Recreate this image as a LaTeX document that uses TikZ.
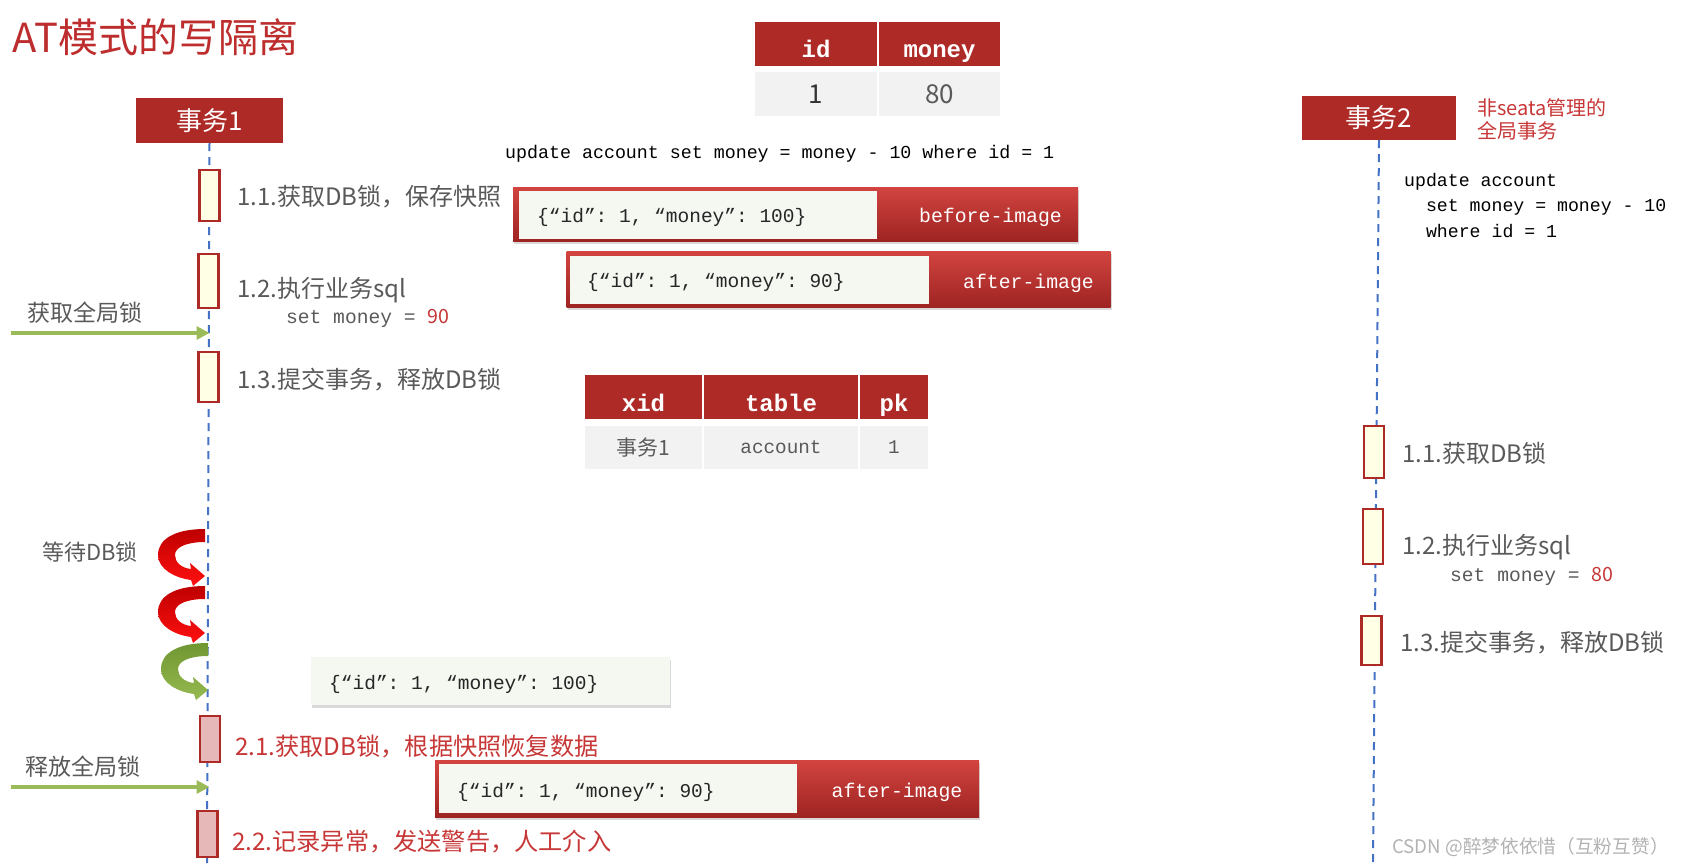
\documentclass[tikz,border=0pt]{standalone}
\usepackage{fontspec}
\setmainfont{Noto Sans CJK SC}
\setmonofont{Liberation Mono}
\usetikzlibrary{arrows.meta,shadows}

\definecolor{txred}{RGB}{174,42,39}
\definecolor{titlered}{RGB}{189,45,45}
\definecolor{labelred}{RGB}{199,55,55}
\definecolor{txtgray}{RGB}{89,89,89}
\definecolor{actyellow}{RGB}{255,255,229}
\definecolor{actpink}{RGB}{230,184,183}
\definecolor{lifeblue}{RGB}{68,114,196}
\definecolor{lockgreen}{RGB}{155,187,89}
\definecolor{datafill}{RGB}{242,242,242}
\definecolor{jsonfill}{RGB}{244,248,241}
\definecolor{imgtop}{RGB}{210,68,64}
\definecolor{imgbot}{RGB}{158,36,34}
\definecolor{waitdark}{RGB}{190,0,0}
\definecolor{waitlight}{RGB}{255,16,16}
\definecolor{greendark}{RGB}{112,150,50}
\definecolor{greenlight}{RGB}{150,186,80}
\definecolor{marklight}{RGB}{178,178,178}

\tikzset{
  txhead/.style={fill=txred, text=white, inner sep=0pt, font=\fontsize{26}{26}\selectfont},
  act/.style={draw=txred, line width=2.2pt, fill=actyellow, minimum width=20pt, inner sep=0pt},
  actdone/.style={act, fill=actpink},
  lifeline/.style={draw=lifeblue, line width=2pt, dash pattern=on 8pt off 6pt},
  steptext/.style={anchor=west, inner sep=0pt, text=txtgray, font=\fontsize{24}{24}\selectfont},
  redtext/.style={steptext, text=labelred, font=\fontsize{24.2}{24.2}\selectfont},
  settext/.style={anchor=west, inner sep=0pt, text=txtgray, font=\ttfamily\fontsize{19.6}{19.6}\selectfont},
  sqltext/.style={anchor=west, inner sep=0pt, font=\ttfamily\fontsize{18.3}{18.3}\selectfont},
  lockarrow/.style={draw=lockgreen, line width=4pt, -{Triangle[length=13pt,width=13pt]}},
  thcell/.style={fill=txred, text=white, inner sep=0pt, minimum height=44pt, text height=28pt, text depth=0pt, font=\ttfamily\bfseries\fontsize{24}{24}\selectfont},
  tdcell/.style={fill=datafill, text=txtgray, inner sep=0pt, minimum height=44pt},
  imgbox/.style={top color=imgtop, bottom color=imgbot, inner sep=0pt, drop shadow={shadow xshift=1pt, shadow yshift=-3pt, opacity=.3}},
  jsonbox/.style={fill=jsonfill, inner sep=0pt},
  jsontext/.style={anchor=west, inner sep=0pt, text=black!85, font=\ttfamily\fontsize{19.5}{19.5}\selectfont},
  imgtag/.style={inner sep=0pt, text=white, font=\ttfamily\fontsize{19.8}{19.8}\selectfont},
  redwait/.style={top color=waitdark, bottom color=waitlight},
  greenwait/.style={top color=greendark, bottom color=greenlight},
  pics/waitarrow/.style={code={
    \shade[#1] (0,0) .. controls (-30,0) and (-47,10) .. (-47,26)
      .. controls (-47,40) and (-30,49) .. (-14,51) -- (-12,57) -- (0,47) -- (-15,34) -- (-14,40)
      .. controls (-24,39) and (-30,33) .. (-30,26) .. controls (-30,18) and (-18,13) .. (0,13) -- cycle;
  }}
}

\begin{document}
\begin{tikzpicture}[x=1pt, y=-1pt]
\useasboundingbox (0,0) rectangle (1686,867);

\node[anchor=west, inner sep=0pt, text=titlered, font=\fontsize{40}{40}\selectfont] (title) at (12,37) {AT模式的写隔离};

% transactions and lifelines
\node[txhead, minimum width=147pt, minimum height=45pt] (t1) at (209.5,120.5) {事务1};
\node[txhead, minimum width=154pt, minimum height=44pt] (t2) at (1379,118) {事务2};
\node[anchor=north west, inner sep=0pt, align=left, text=labelred, font=\fontsize{20}{23}\selectfont] (t2note) at (1477,98) {非seata管理的\\全局事务};
\coordinate (t1end) at (207,863);
\coordinate (t2end) at (1373,862);
\draw[lifeline] (t1.south) -- (t1end);
\draw[lifeline] (t2.south) -- (t2end);

\node[act, minimum height=51pt] (a11) at (209.5,195.5) {};
\node[act, minimum height=54pt] (a12) at (208.5,281) {};
\node[act, minimum height=50pt] (a13) at (208.5,377) {};
\node[actdone, minimum height=46pt] (a21) at (210,739) {};
\node[actdone, minimum height=46pt] (a22) at (207.5,834) {};
\node[act, minimum height=52pt] (b11) at (1374,452) {};
\node[act, minimum height=55pt] (b12) at (1373,536.5) {};
\node[act, minimum height=49pt] (b13) at (1371.5,640.5) {};

\node[steptext] (s11) at (237,197) {1.1.获取DB锁，保存快照};
\node[steptext] (s12) at (237,290) {1.2.执行业务sql};
\node[settext] (s12set) at (286,318) {set money = {\rmfamily\color{labelred}90}};
\node[steptext] (s13) at (237,380) {1.3.提交事务，释放DB锁};
\node[redtext] (s21) at (235,747) {2.1.获取DB锁，根据快照恢复数据};
\node[redtext] (s22) at (232,842) {2.2.记录异常，发送警告，人工介入};

\node[steptext] (r11) at (1402,453) {1.1.获取DB锁};
\node[steptext] (r12) at (1402,547) {1.2.执行业务sql};
\node[settext] (r12set) at (1450,576) {set money = {\rmfamily\color{labelred}80}};
\node[steptext] (r13) at (1400,643) {1.3.提交事务，释放DB锁};

% global lock
\node[steptext, font=\fontsize{23}{23}\selectfont] (getlock) at (27,313) {获取全局锁};
\coordinate (ga1) at (11,333);
\draw[lockarrow] (ga1) -- (ga1 -| t1.south);
\node[steptext, font=\fontsize{23}{23}\selectfont] (freelock) at (25,767) {释放全局锁};
\coordinate (ga2) at (11,787);
\draw[lockarrow] (ga2) -- (ga2 -| t1.south);

\node[steptext, font=\fontsize{22}{22}\selectfont] (waitlock) at (42,552) {等待DB锁};
\pic at (205,529) {waitarrow=redwait};
\pic at (205,586) {waitarrow=redwait};
\pic at (208,643) {waitarrow=greenwait};

% sql
\node[sqltext] (sqlone) at (505,154) {update account set money = money - 10 where id = 1};
\node[anchor=north west, inner sep=0pt, align=left, font=\ttfamily\fontsize{18.2}{25.5}\selectfont] (sqltwo) at (1404,173) {update account\\\hphantom{xx}set money = money - 10\\\hphantom{xx}where id = 1};

% tables
\node[thcell, minimum width=122pt] (hid) at (816,44) {id};
\node[thcell, minimum width=121pt] (hmoney) at (939.5,44) {money};
\node[tdcell, minimum width=122pt, text=black!80, font=\fontsize{26}{26}\selectfont] (did) at (816,94) {1};
\node[tdcell, minimum width=121pt, font=\fontsize{26}{26}\selectfont] (dmoney) at (939.5,94) {80};

\node[thcell, minimum width=117pt] (hxid) at (643.5,397) {xid};
\node[thcell, minimum width=154pt] (htable) at (781,397) {table};
\node[thcell, minimum width=68pt] (hpk) at (894,397) {pk};
\node[tdcell, minimum width=117pt, minimum height=43pt, font=\fontsize{21}{21}\selectfont] (dxid) at (643.5,447.5) {事务1};
\node[tdcell, minimum width=154pt, minimum height=43pt, font=\ttfamily\fontsize{19.3}{19.3}\selectfont] (dtable) at (781,447.5) {account};
\node[tdcell, minimum width=68pt, minimum height=43pt, font=\ttfamily\fontsize{19.3}{19.3}\selectfont] (dpk) at (894,447.5) {1};

% images
\node[imgbox, minimum width=565pt, minimum height=54pt] (before) at (795.5,214) {};
\node[jsonbox, minimum width=358pt, minimum height=48pt] (beforejson) at (698,215) {};
\node[jsontext] (beforetext) at (537,217) {\{“id”: 1, “money”: 100\}};
\node[imgtag] (beforetag) at (990.5,217) {before-image};

\node[imgbox, minimum width=544pt, minimum height=56pt] (after) at (838.5,279) {};
\node[jsonbox, minimum width=359pt, minimum height=48pt] (afterjson) at (749.5,280) {};
\node[jsontext] (aftertext) at (587,282) {\{“id”: 1, “money”: 90\}};
\node[imgtag] (aftertag) at (1028.5,283) {after-image};

\node[jsonbox, minimum width=359pt, minimum height=48pt, drop shadow={shadow xshift=1pt, shadow yshift=-3pt, opacity=.3}] (snapjson) at (490.5,681) {};
\node[jsontext] (snaptext) at (329,684) {\{“id”: 1, “money”: 100\}};

\node[imgbox, minimum width=544pt, minimum height=57pt] (undo) at (707,788.5) {};
\node[jsonbox, minimum width=358.5pt, minimum height=49pt] (undojson) at (617.75,788.5) {};
\node[jsontext] (undotext) at (457,792) {\{“id”: 1, “money”: 90\}};
\node[imgtag] (undotag) at (897,792) {after-image};

\node[anchor=west, inner sep=0pt, text=marklight, font=\fontsize{18.7}{18.7}\selectfont] (mark) at (1392,847) {CSDN @醉梦依依惜（互粉互赞）};
\end{tikzpicture}
\end{document}
